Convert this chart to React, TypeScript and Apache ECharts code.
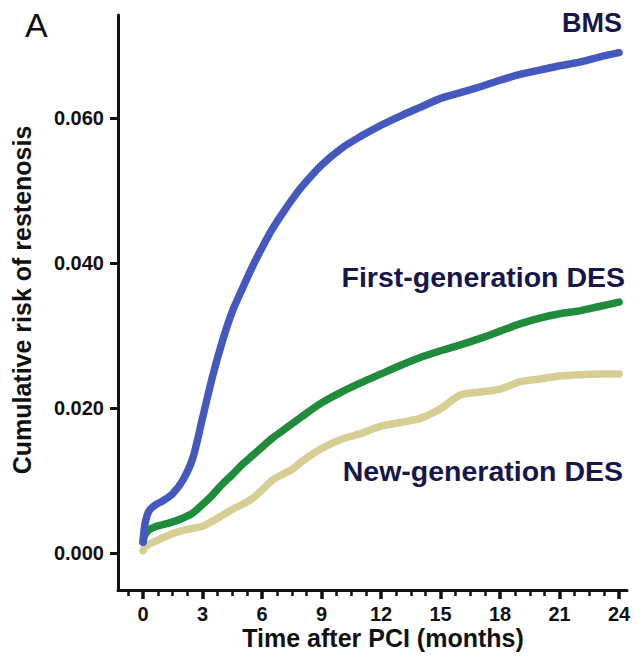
import React, { useEffect, useRef } from "react";
import * as echarts from "echarts";

const months = [0, 0.1, 0.3, 0.6, 1, 1.5, 2, 2.5, 3, 3.5, 4, 4.5, 5, 5.5, 6, 6.5, 7, 7.5, 8, 9, 10, 11, 12, 13, 14, 15, 16, 17, 18, 19, 20, 21, 22, 23, 24];

const bms = [0.0015, 0.004, 0.0058, 0.0066, 0.0072, 0.0082, 0.0100, 0.0130, 0.0186, 0.0243, 0.0292, 0.0333, 0.0364, 0.0394, 0.0421, 0.0446, 0.0467, 0.0487, 0.0505, 0.0535, 0.0558, 0.0575, 0.0590, 0.0603, 0.0615, 0.0627, 0.0635, 0.0643, 0.0652, 0.0660, 0.0666, 0.0672, 0.0677, 0.0684, 0.0690];

const firstGen = [0.0015, 0.0025, 0.0032, 0.0036, 0.0039, 0.0043, 0.0048, 0.0055, 0.0067, 0.0080, 0.0095, 0.0108, 0.0122, 0.0134, 0.0146, 0.0158, 0.0168, 0.0178, 0.0188, 0.0207, 0.0222, 0.0235, 0.0247, 0.0259, 0.0270, 0.0279, 0.0287, 0.0296, 0.0306, 0.0316, 0.0324, 0.0330, 0.0334, 0.0340, 0.0346];

const newGen = [0.0003, 0.0008, 0.0012, 0.0016, 0.0021, 0.0027, 0.0031, 0.0034, 0.0037, 0.0044, 0.0052, 0.0060, 0.0067, 0.0075, 0.0087, 0.0100, 0.0108, 0.0115, 0.0126, 0.0144, 0.0157, 0.0165, 0.0175, 0.0180, 0.0186, 0.0199, 0.0218, 0.0222, 0.0226, 0.0236, 0.0240, 0.0244, 0.0246, 0.0247, 0.0247];

const xMajorTicks = [0, 3, 6, 9, 12, 15, 18, 21, 24];
const xMinorTicks = [-0.75, 0.75, 1.5, 2.25, 3.75, 4.5, 5.25, 6.75, 7.5, 8.25, 9.75, 10.5, 11.25, 12.75, 13.5, 14.25, 15.75, 16.5, 17.25, 18.75, 19.5, 20.25, 21.75, 22.5, 23.25];
const yTicks = [0, 0.02, 0.04, 0.06];

const seriesNames = ["New-generation DES", "First-generation DES", "BMS"];
const seriesColors = ["#D6CE94", "#1F8B3B", "#4558BE"];

const FONT = "Liberation Sans, Arial, Helvetica, sans-serif";

export default function App() {
  const ref = useRef<HTMLDivElement>(null);
  useEffect(() => {
    document.body.style.margin = "0";
    if (!ref.current) return;
    const chart = echarts.init(ref.current, undefined, { renderer: "svg" });
    const pairs = (ys: number[]) => months.map((m, i) => [m, ys[i]]);
    const dataSets = [newGen, firstGen, bms];
    chart.setOption({
      animation: false,
      backgroundColor: "#ffffff",
      grid: { left: 118, right: 15, top: 15, bottom: 67, outerBoundsMode: "none", containLabel: false },
      xAxis: [
        {
          type: "value",
          min: -1.26,
          max: 24.4,
          position: "bottom",
          splitLine: { show: false },
          axisLine: { show: true, onZero: false, lineStyle: { color: "#111", width: 3 } },
          axisTick: { show: true, customValues: xMajorTicks, length: 9, lineStyle: { color: "#111", width: 3.5 } },
          axisLabel: {
            customValues: xMajorTicks,
            margin: 14,
            color: "#111",
            fontSize: 20,
            fontWeight: "bold",
            fontFamily: FONT,
          },
        },
        {
          type: "value",
          min: -1.26,
          max: 24.4,
          position: "bottom",
          splitLine: { show: false },
          axisLine: { show: false, onZero: false },
          axisTick: { show: true, customValues: xMinorTicks, length: 6, lineStyle: { color: "#111", width: 2.5 } },
          axisLabel: { show: false },
        },
      ],
      yAxis: {
        type: "value",
        min: -0.0051,
        max: 0.0742,
        splitLine: { show: false },
        axisLine: { show: true, onZero: false, lineStyle: { color: "#111", width: 3 } },
        axisTick: { show: true, customValues: yTicks, length: 8, lineStyle: { color: "#111", width: 3 } },
        axisLabel: {
          customValues: yTicks,
          margin: 14,
          color: "#111",
          fontSize: 20,
          fontWeight: "bold",
          fontFamily: FONT,
          formatter: (v: number) => v.toFixed(3),
        },
      },
      series: dataSets.map((ys, i) => ({
        name: seriesNames[i],
        type: "line",
        data: pairs(ys),
        showSymbol: false,
        smooth: 0.3,
        lineStyle: { color: seriesColors[i], width: 7.5, cap: "round", join: "round" },
        z: 2 + i,
      })),
      graphic: [
        {
          type: "text",
          x: 25,
          y: 25,
          style: { text: "A", font: `normal 34px ${FONT}`, fill: "#111", textAlign: "left", textVerticalAlign: "middle" },
        },
        {
          type: "text",
          x: 622,
          y: 23,
          style: { text: "BMS", font: `bold 27px ${FONT}`, fill: "#16164A", textAlign: "right", textVerticalAlign: "middle" },
        },
        {
          type: "text",
          x: 625,
          y: 277,
          style: { text: "First-generation DES", font: `bold 28.5px ${FONT}`, fill: "#16164A", textAlign: "right", textVerticalAlign: "middle" },
        },
        {
          type: "text",
          x: 623,
          y: 471,
          style: { text: "New-generation DES", font: `bold 28.5px ${FONT}`, fill: "#16164A", textAlign: "right", textVerticalAlign: "middle" },
        },
        {
          type: "text",
          x: 383,
          y: 638,
          style: { text: "Time after PCI (months)", font: `bold 25px ${FONT}`, fill: "#111", textAlign: "center", textVerticalAlign: "middle" },
        },
        {
          type: "text",
          x: 22,
          y: 300,
          rotation: Math.PI / 2,
          style: { text: "Cumulative risk of restenosis", font: `bold 25px ${FONT}`, fill: "#111", textAlign: "center", textVerticalAlign: "middle" },
        },
      ],
    });
    return () => chart.dispose();
  }, []);
  return <div ref={ref} style={{ width: 642, height: 657 }} />;
}
